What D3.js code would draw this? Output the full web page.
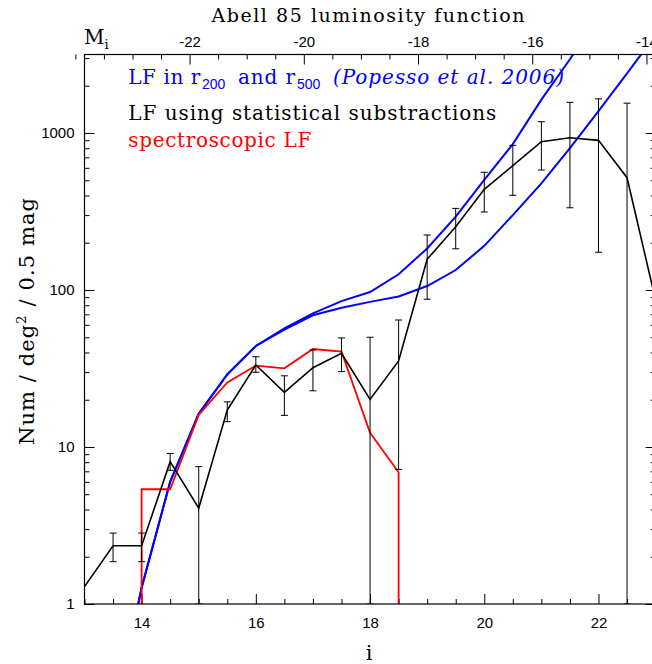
<!DOCTYPE html>
<html>
<head>
<meta charset="utf-8">
<script src="https://d3js.org/d3.v7.min.js"></script>
<style>
  body { margin: 0; background: #fff; }
</style>
</head>
<body>
<div id="lf_chart"></div>
<script>
// ===== DATA =====

// i magnitude bins of the statistical LF
var statMags = [13, 13.5, 14, 14.5, 15, 15.5, 16, 16.5, 17, 17.5, 18, 18.5, 19, 19.5, 20, 20.5, 21, 21.5, 22, 22.5, 23];
// counts per deg^2 per 0.5 mag, and the error bar ends (null = no bar drawn)
var statCounts = [1.29, 2.35, 2.35, 8.06, 4.07, 17.2, 33.3, 22.3, 32.0, 39.5, 20.1, 35.3, 157, 253, 438, 619, 880, 933, 898, 519, 86];
var statErrHigh = [null, 2.83, 2.83, 9.1, 7.5, 19.4, 37.6, 28.4, 41.5, 49.5, 50, 64.4, 224, 331, 562, 835, 1180, 1567, 1650, 1548, null];
var statErrLow = [null, 1.86, 1.86, 7.1, 1, 14.5, 29.9, 15.9, 22.8, 30.2, 1, 7.2, 87.3, 183, 314, 401, 581, 334, 174, 1, null];

// spectroscopic LF (drawn as a step at both ends)
var specMags = [14, 14, 14.5, 15, 15.5, 16, 16.5, 17, 17.5, 18, 18.5, 18.5];
var specCounts = [1, 5.38, 5.38, 16, 25.8, 33.0, 31.7, 42.1, 40.5, 12.3, 6.9, 1];

// Popesso et al. 2006 LFs (two apertures)
var popessoMagsA = [13.5, 14, 14.5, 15, 15.5, 16, 16.5, 17, 17.5, 18, 18.5, 19, 19.5, 20, 20.5, 21, 21.5, 22];
var popessoCountsA = [0.17, 1.27, 6.0, 16.3, 29, 44, 57, 71, 85, 97, 126, 184, 293, 502, 850, 1630, 2950, 5500];
var popessoMagsB = [13.5, 14, 14.5, 15, 15.5, 16, 16.5, 17, 17.5, 18, 18.5, 19, 19.5, 20, 20.5, 21, 21.5, 22, 22.5, 23];
var popessoCountsB = [0.17, 1.27, 6.0, 16.3, 29, 44, 56, 69, 77, 84, 91, 106, 134, 191, 300, 478, 800, 1380, 2400, 4200];

// tick labels
var iTicks = [14, 16, 18, 20, 22];
var absMagTicks = [-22, -20, -18, -16, -14];
var countTicks = [1, 10, 100, 1000];
var distModulus = 36.84;  // i - M_i

var serif = "'DejaVu Serif', serif";
var sans = "'Liberation Sans', Arial, sans-serif";

// ===== ABELL 85 LUMINOSITY FUNCTION (LOG PLOT) =====
function lf_chart()
{
  var w = 652;
  var h = 664;
  var left = 84.5, right = 655.6, top = 54.5, bottom = 604;

  var svg = d3.select("#lf_chart")
              .append("svg")
              .attr("width", w)
              .attr("height", h);

  var x = d3.scaleLinear()
            .domain([13, 23])
            .range([left, right]);

  var xAbs = d3.scaleLinear()
               .domain([13 - distModulus, 23 - distModulus])
               .range([left, right]);

  var y = d3.scaleLog()
            .domain([1, 3162])
            .range([bottom, top]);

  svg.append("clipPath")
     .attr("id", "plotclip")
     .append("rect")
     .attr("x", left)
     .attr("y", top)
     .attr("width", right - left)
     .attr("height", bottom - top);

  // minor tick positions
  var iMinor = d3.range(13, 23.01, 0.5).filter(function(d) { return iTicks.indexOf(d) < 0; });
  var absMinor = d3.range(-24, -13.9, 0.5).filter(function(d) { return absMagTicks.indexOf(d) < 0; });
  var countMinor = [];
  countTicks.forEach(function(dec) {
    for (var k = 2; k <= 9; k++) {
      if (dec * k <= 3162) countMinor.push(dec * k);
    }
  });

  function styleAxis(g)
  {
    g.attr("font-family", sans).attr("font-size", 15);
    g.select(".domain").remove();
    g.selectAll("line").attr("stroke", "#000");
    g.selectAll("text").attr("fill", "#000");
  }

  // bottom axis (i)
  svg.append("g")
     .attr("transform", "translate(0," + bottom + ")")
     .call(d3.axisBottom(x).tickValues(iTicks).tickSizeInner(-10).tickSizeOuter(0)
             .tickPadding(13).tickFormat(d3.format("d")))
     .call(styleAxis);
  svg.append("g")
     .attr("transform", "translate(0," + bottom + ")")
     .call(d3.axisBottom(x).tickValues(iMinor).tickSizeInner(-5).tickSizeOuter(0).tickFormat(""))
     .call(styleAxis);

  // top axis (M_i)
  svg.append("g")
     .attr("transform", "translate(0," + top + ")")
     .call(d3.axisTop(xAbs).tickValues(absMagTicks).tickSizeInner(-10).tickSizeOuter(0)
             .tickPadding(8).tickFormat(function(d) { return String(d); }))
     .call(styleAxis);
  svg.append("g")
     .attr("transform", "translate(0," + top + ")")
     .call(d3.axisTop(xAbs).tickValues(absMinor).tickSizeInner(-5).tickSizeOuter(0).tickFormat(""))
     .call(styleAxis);

  // left axis (counts)
  svg.append("g")
     .attr("transform", "translate(" + left + ",0)")
     .call(d3.axisLeft(y).tickValues(countTicks).tickSizeInner(-10).tickSizeOuter(0)
             .tickPadding(10).tickFormat(d3.format("d")))
     .call(styleAxis);
  svg.append("g")
     .attr("transform", "translate(" + left + ",0)")
     .call(d3.axisLeft(y).tickValues(countMinor).tickSizeInner(-5).tickSizeOuter(0).tickFormat(""))
     .call(styleAxis);

  // right axis, ticks only
  svg.append("g")
     .attr("transform", "translate(" + right + ",0)")
     .call(d3.axisRight(y).tickValues(countTicks).tickSizeInner(-10).tickSizeOuter(0).tickFormat(""))
     .call(styleAxis);
  svg.append("g")
     .attr("transform", "translate(" + right + ",0)")
     .call(d3.axisRight(y).tickValues(countMinor).tickSizeInner(-5).tickSizeOuter(0).tickFormat(""))
     .call(styleAxis);

  var plot = svg.append("g").attr("clip-path", "url(#plotclip)");

  var line = d3.line()
               .x(function(d) { return x(d[0]); })
               .y(function(d) { return y(d[1]); });

  function pairs(xs, ys) {
    return xs.map(function(v, i) { return [v, ys[i]]; });
  }

  // Popesso curves
  plot.append("path")
      .attr("d", line(pairs(popessoMagsA, popessoCountsA)))
      .attr("fill", "none")
      .attr("stroke", "#0000ff")
      .attr("stroke-width", 2);
  plot.append("path")
      .attr("d", line(pairs(popessoMagsB, popessoCountsB)))
      .attr("fill", "none")
      .attr("stroke", "#0000ff")
      .attr("stroke-width", 2);

  // spectroscopic LF
  plot.append("path")
      .attr("d", line(pairs(specMags, specCounts)))
      .attr("fill", "none")
      .attr("stroke", "#ff0000")
      .attr("stroke-width", 1.8);

  // error bars of the statistical LF
  var bars = statMags.map(function(m, i) {
    return {m: m, hi: statErrHigh[i], lo: statErrLow[i]};
  }).filter(function(d) { return d.hi != null; });

  var eb = plot.selectAll("g.errbar")
               .data(bars)
               .enter()
               .append("g")
               .attr("class", "errbar")
               .attr("stroke", "#000")
               .attr("stroke-width", 1);
  eb.append("line")
    .attr("x1", function(d) { return x(d.m); })
    .attr("x2", function(d) { return x(d.m); })
    .attr("y1", function(d) { return y(d.hi); })
    .attr("y2", function(d) { return y(d.lo); });
  eb.append("line")
    .attr("x1", function(d) { return x(d.m) - 3.5; })
    .attr("x2", function(d) { return x(d.m) + 3.5; })
    .attr("y1", function(d) { return y(d.hi); })
    .attr("y2", function(d) { return y(d.hi); });
  eb.append("line")
    .attr("x1", function(d) { return x(d.m) - 3.5; })
    .attr("x2", function(d) { return x(d.m) + 3.5; })
    .attr("y1", function(d) { return y(d.lo); })
    .attr("y2", function(d) { return y(d.lo); });

  // statistical LF
  plot.append("path")
      .attr("d", line(pairs(statMags, statCounts)))
      .attr("fill", "none")
      .attr("stroke", "#000")
      .attr("stroke-width", 1.6);

  // frame
  svg.append("rect")
     .attr("x", left)
     .attr("y", top)
     .attr("width", right - left)
     .attr("height", bottom - top)
     .attr("fill", "none")
     .attr("stroke", "#000")
     .attr("stroke-width", 1.2);

  // title and axis labels
  svg.append("text")
     .attr("x", 211.5)
     .attr("y", 22)
     .attr("font-family", serif)
     .attr("font-size", 19)
     .attr("textLength", 313)
     .attr("lengthAdjust", "spacing")
     .text("Abell 85 luminosity function");

  var mlab = svg.append("text")
                .attr("x", 84)
                .attr("y", 43.5)
                .attr("font-family", serif)
                .attr("font-size", 20);
  mlab.append("tspan").text("M");
  mlab.append("tspan").attr("dy", 5).attr("font-size", 13).text("i");

  svg.append("text")
     .attr("x", 369)
     .attr("y", 660)
     .attr("text-anchor", "middle")
     .attr("font-family", serif)
     .attr("font-size", 21)
     .text("i");

  var ylab = svg.append("text")
                .attr("transform", "translate(34,321) rotate(-90)")
                .attr("text-anchor", "middle")
                .attr("font-family", serif)
                .attr("font-size", 21)
                .attr("letter-spacing", 1.1);
  ylab.append("tspan").text("Num / deg");
  ylab.append("tspan").attr("dy", -8).attr("font-size", 13).text("2");
  ylab.append("tspan").attr("dy", 8).text(" / 0.5 mag");

  // legend
  var leg1 = svg.append("text")
                .attr("y", 83.5)
                .attr("font-family", serif)
                .attr("font-size", 20)
                .attr("fill", "#0000ff");
  leg1.append("tspan").attr("x", 128.3)
      .attr("textLength", 72).attr("lengthAdjust", "spacing").text("LF in r");
  leg1.append("tspan").attr("x", 202).attr("dy", 5).attr("font-family", sans).attr("font-size", 14).text("200");
  leg1.append("tspan").attr("x", 238).attr("dy", -5)
      .attr("textLength", 57).attr("lengthAdjust", "spacing").text("and r");
  leg1.append("tspan").attr("x", 297).attr("dy", 5).attr("font-family", sans).attr("font-size", 14).text("500");
  leg1.append("tspan").attr("x", 333).attr("dy", -5).attr("font-style", "italic")
      .attr("textLength", 231).attr("lengthAdjust", "spacing").text("(Popesso et al. 2006)");

  svg.append("text")
     .attr("x", 128.3)
     .attr("y", 120)
     .attr("font-family", serif)
     .attr("font-size", 20)
     .attr("textLength", 368)
     .attr("lengthAdjust", "spacing")
     .attr("fill", "#000")
     .text("LF using statistical substractions");

  svg.append("text")
     .attr("x", 128.3)
     .attr("y", 147)
     .attr("font-family", serif)
     .attr("font-size", 20)
     .attr("textLength", 183)
     .attr("lengthAdjust", "spacing")
     .attr("fill", "#ff0000")
     .text("spectroscopic LF");
}

function init(){
  lf_chart();
}

window.onload = init
</script>
</body>
</html>
